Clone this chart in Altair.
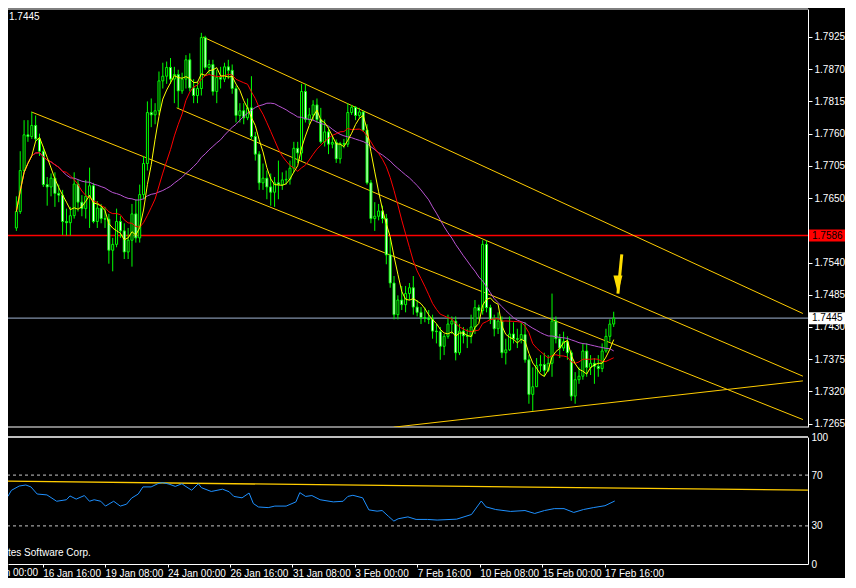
import json
import pandas as pd
import altair as alt

# ---------------- data (H4 bars, index 0 = first bar) ----------------
opens = [
    1.7599, 1.7627, 1.7697, 1.7758, 1.7755, 1.7774, 1.7751, 1.7730, 1.7673, 1.7669,
    1.7684, 1.7658, 1.7655, 1.7610, 1.7608, 1.7620, 1.7674, 1.7643, 1.7632, 1.7653,
    1.7671, 1.7610, 1.7633, 1.7615, 1.7614, 1.7561, 1.7571, 1.7610, 1.7594, 1.7558,
    1.7578, 1.7623, 1.7582, 1.7656, 1.7709, 1.7796, 1.7792, 1.7799, 1.7850, 1.7858,
    1.7873, 1.7853, 1.7861, 1.7833, 1.7853, 1.7886, 1.7838, 1.7825, 1.7837, 1.7924,
    1.7873, 1.7878, 1.7832, 1.7856, 1.7853, 1.7874, 1.7868, 1.7837, 1.7791, 1.7799,
    1.7787, 1.7804, 1.7755, 1.7725, 1.7676, 1.7684, 1.7669, 1.7660, 1.7676, 1.7673,
    1.7681, 1.7682, 1.7701, 1.7735, 1.7727, 1.7832, 1.7784, 1.7792, 1.7809, 1.7784,
    1.7746, 1.7763, 1.7742, 1.7745, 1.7717, 1.7743, 1.7742, 1.7796, 1.7805, 1.7791,
    1.7797, 1.7766, 1.7676, 1.7615, 1.7619, 1.7628, 1.7615, 1.7553, 1.7505, 1.7451,
    1.7476, 1.7468, 1.7487, 1.7497, 1.7464, 1.7455, 1.7446, 1.7445, 1.7443, 1.7423,
    1.7422, 1.7397, 1.7414, 1.7435, 1.7440, 1.7386, 1.7423, 1.7415, 1.7414, 1.7430,
    1.7463, 1.7458, 1.7571, 1.7463, 1.7443, 1.7427, 1.7440, 1.7386, 1.7391, 1.7418,
    1.7410, 1.7409, 1.7417, 1.7374, 1.7315, 1.7328, 1.7364, 1.7366, 1.7356, 1.7368,
    1.7440, 1.7410, 1.7394, 1.7405, 1.7386, 1.7312, 1.7340, 1.7346, 1.7389, 1.7361,
    1.7368, 1.7363, 1.7359, 1.7389, 1.7414, 1.7435,
]
highs = [
    1.7653, 1.7730, 1.7783, 1.7783, 1.7797, 1.7791, 1.7760, 1.7738, 1.7686, 1.7692,
    1.7694, 1.7673, 1.7664, 1.7632, 1.7635, 1.7694, 1.7681, 1.7655, 1.7681, 1.7702,
    1.7676, 1.7645, 1.7640, 1.7635, 1.7623, 1.7582, 1.7632, 1.7619, 1.7607, 1.7599,
    1.7640, 1.7648, 1.7673, 1.7722, 1.7815, 1.7820, 1.7812, 1.7866, 1.7881, 1.7883,
    1.7889, 1.7874, 1.7869, 1.7864, 1.7894, 1.7897, 1.7853, 1.7848, 1.7932, 1.7927,
    1.7886, 1.7886, 1.7869, 1.7874, 1.7881, 1.7886, 1.7878, 1.7842, 1.7812, 1.7812,
    1.7820, 1.7858, 1.7763, 1.7730, 1.7709, 1.7697, 1.7692, 1.7686, 1.7714, 1.7694,
    1.7697, 1.7714, 1.7746, 1.7746, 1.7845, 1.7845, 1.7804, 1.7817, 1.7820, 1.7804,
    1.7784, 1.7771, 1.7755, 1.7750, 1.7746, 1.7751, 1.7812, 1.7809, 1.7807, 1.7804,
    1.7799, 1.7776, 1.7681, 1.7643, 1.7640, 1.7637, 1.7623, 1.7582, 1.7517, 1.7484,
    1.7500, 1.7500, 1.7505, 1.7517, 1.7476, 1.7464, 1.7463, 1.7459, 1.7451, 1.7435,
    1.7430, 1.7418, 1.7451, 1.7448, 1.7448, 1.7435, 1.7430, 1.7427, 1.7451, 1.7476,
    1.7468, 1.7578, 1.7578, 1.7468, 1.7451, 1.7455, 1.7448, 1.7410, 1.7448, 1.7438,
    1.7427, 1.7438, 1.7438, 1.7382, 1.7361, 1.7377, 1.7382, 1.7386, 1.7382, 1.7487,
    1.7448, 1.7418, 1.7422, 1.7414, 1.7390, 1.7353, 1.7361, 1.7402, 1.7402, 1.7382,
    1.7377, 1.7382, 1.7402, 1.7427, 1.7443, 1.7456,
]
lows = [
    1.7594, 1.7623, 1.7694, 1.7746, 1.7751, 1.7746, 1.7722, 1.7669, 1.7637, 1.7653,
    1.7635, 1.7643, 1.7587, 1.7586, 1.7586, 1.7615, 1.7627, 1.7619, 1.7615, 1.7599,
    1.7607, 1.7599, 1.7607, 1.7599, 1.7538, 1.7525, 1.7566, 1.7582, 1.7546, 1.7546,
    1.7533, 1.7574, 1.7574, 1.7648, 1.7697, 1.7771, 1.7776, 1.7792, 1.7837, 1.7845,
    1.7845, 1.7812, 1.7804, 1.7828, 1.7837, 1.7832, 1.7812, 1.7812, 1.7825, 1.7869,
    1.7861, 1.7825, 1.7812, 1.7837, 1.7848, 1.7853, 1.7828, 1.7779, 1.7779, 1.7776,
    1.7783, 1.7750, 1.7714, 1.7664, 1.7664, 1.7648, 1.7637, 1.7635, 1.7648, 1.7664,
    1.7673, 1.7673, 1.7694, 1.7710, 1.7714, 1.7779, 1.7776, 1.7783, 1.7779, 1.7743,
    1.7738, 1.7725, 1.7735, 1.7710, 1.7709, 1.7735, 1.7737, 1.7792, 1.7783, 1.7786,
    1.7763, 1.7673, 1.7607, 1.7594, 1.7612, 1.7607, 1.7537, 1.7497, 1.7443, 1.7443,
    1.7459, 1.7455, 1.7476, 1.7451, 1.7448, 1.7435, 1.7438, 1.7435, 1.7410, 1.7402,
    1.7374, 1.7382, 1.7410, 1.7418, 1.7373, 1.7382, 1.7402, 1.7394, 1.7402, 1.7418,
    1.7443, 1.7451, 1.7455, 1.7435, 1.7414, 1.7418, 1.7377, 1.7366, 1.7389, 1.7402,
    1.7394, 1.7402, 1.7369, 1.7299, 1.7287, 1.7328, 1.7353, 1.7345, 1.7353, 1.7345,
    1.7402, 1.7377, 1.7389, 1.7374, 1.7304, 1.7299, 1.7333, 1.7340, 1.7345, 1.7348,
    1.7333, 1.7345, 1.7353, 1.7386, 1.7405, 1.7430,
]
closes = [
    1.7627, 1.7697, 1.7758, 1.7755, 1.7774, 1.7751, 1.7730, 1.7673, 1.7669, 1.7684,
    1.7658, 1.7655, 1.7610, 1.7608, 1.7620, 1.7674, 1.7643, 1.7632, 1.7653, 1.7671,
    1.7610, 1.7633, 1.7615, 1.7614, 1.7561, 1.7571, 1.7610, 1.7594, 1.7558, 1.7578,
    1.7623, 1.7582, 1.7656, 1.7709, 1.7796, 1.7792, 1.7799, 1.7850, 1.7858, 1.7873,
    1.7853, 1.7861, 1.7833, 1.7853, 1.7886, 1.7838, 1.7825, 1.7837, 1.7924, 1.7873,
    1.7878, 1.7832, 1.7856, 1.7853, 1.7874, 1.7868, 1.7837, 1.7791, 1.7799, 1.7787,
    1.7804, 1.7755, 1.7725, 1.7676, 1.7684, 1.7669, 1.7660, 1.7676, 1.7673, 1.7681,
    1.7682, 1.7701, 1.7735, 1.7727, 1.7832, 1.7784, 1.7792, 1.7809, 1.7784, 1.7746,
    1.7763, 1.7742, 1.7745, 1.7717, 1.7743, 1.7742, 1.7796, 1.7805, 1.7791, 1.7797,
    1.7766, 1.7676, 1.7615, 1.7619, 1.7628, 1.7615, 1.7553, 1.7505, 1.7451, 1.7476,
    1.7468, 1.7487, 1.7497, 1.7464, 1.7455, 1.7446, 1.7445, 1.7443, 1.7423, 1.7422,
    1.7397, 1.7414, 1.7435, 1.7440, 1.7386, 1.7423, 1.7415, 1.7414, 1.7430, 1.7463,
    1.7458, 1.7571, 1.7463, 1.7443, 1.7427, 1.7440, 1.7386, 1.7391, 1.7418, 1.7410,
    1.7409, 1.7417, 1.7374, 1.7315, 1.7328, 1.7364, 1.7366, 1.7356, 1.7368, 1.7440,
    1.7410, 1.7394, 1.7405, 1.7386, 1.7312, 1.7340, 1.7346, 1.7389, 1.7361, 1.7368,
    1.7363, 1.7359, 1.7389, 1.7414, 1.7435, 1.7445,
]
bar_index = list(range(len(closes)))

# oscillator (sub-window) line: bar position -> value
osc_k = [-0.9, 0, 2, 3.7, 5, 6.6, 9.1, 11.6, 14.1, 15,
         16.6, 18.7, 20, 21.2, 22.9, 24.1, 26.2, 27.9, 29.5, 30.8,
         32.5, 33.7, 35.8, 37.5, 38.7, 40.4, 42, 43.7, 44.5, 46.2,
         47.9, 48.7, 51.2, 54.1, 55.8, 57, 59.1, 60.9, 62, 63.3,
         65.8, 67.5, 70.4, 72.9, 73.9, 75.4, 77, 79.1, 82.5, 85,
         86.2, 87.5, 90, 91.6, 93.7, 95, 96.6, 98, 99.1, 101.6,
         103.7, 106.6, 109.1, 114.1, 117.9, 120.4, 121.6, 124.1, 127.9, 131.6,
         134.1, 136.6, 139.1, 141.6, 144.1, 146.6, 149.1, 152.1, 154.6]
osc_v = [53.2, 58.0, 61.4, 62.2, 60.7, 55.1, 54.4, 49.4, 50.6, 53.6,
         51.1, 53.9, 49.4, 50.6, 49.4, 45.6, 49.4, 45.6, 47.1, 51.9,
         55.1, 60.7, 60.7, 63.2, 64.1, 62.9, 61.1, 63.2, 61.4, 58.1,
         63.2, 60.1, 57.1, 58.9, 56.9, 53.2, 52.1, 55.9, 47.6, 44.9,
         44.4, 45.6, 45.6, 48.9, 56.2, 53.2, 53.9, 50.6, 48.9, 49.4,
         53.2, 54.1, 52.1, 42.6, 41.6, 42.1, 37.6, 33.8, 35.6, 37.1,
         35.1, 35.1, 34.6, 35.3, 39.0, 49.6, 45.0, 42.9, 41.4, 42.1,
         39.8, 42.1, 43.6, 43.6, 40.6, 42.9, 44.4, 45.9, 49.6]

price_ticks = [1.7265, 1.7320, 1.7375, 1.7430, 1.7485, 1.7540, 1.7595,
               1.7650, 1.7705, 1.7760, 1.7815, 1.7870, 1.7925]
hidden_tick = 1.7595   # covered by the red price box in the reference
osc_ticks = [0, 30, 70, 100]
osc_levels = [30, 70]
time_ticks = [-8, 8, 24, 40, 56, 72, 88, 104, 120, 136, 152]
time_labels = ["12 Jan 00:00", "16 Jan 16:00", "19 Jan 08:00", "24 Jan 00:00",
               "26 Jan 16:00", "31 Jan 08:00", "3 Feb 00:00", "7 Feb 16:00",
               "10 Feb 08:00", "15 Feb 00:00", "17 Feb 16:00"]

# trend lines drawn on the price window (start bar, start price, end bar, end price)
trend_k1 = [48.4, 3.9, 41.6, 97.9]
trend_p1 = [1.7925, 1.7797, 1.7804, 1.7259]
trend_k2 = [204.1, 204.1, 204.1, 204.1]
trend_p2 = [1.7453, 1.7272, 1.7346, 1.7338]

# trend line on the oscillator window
osc_trend_k = [-0.875, 204.1]
osc_trend_v = [65.2, 58.1]

# horizontal price lines
level_price = [1.7586]
bid_price = [1.7445]

# arrow (tail -> tip)
arrow_k = [157.1, 156.1]
arrow_p = [1.7554, 1.7487]

# ---------------- chart ----------------
W, H1, H2 = 800, 418, 127
FONT = "Liberation Sans"
LIME = "#00ff00"
TREND = "#ffcc00"

candles = pd.DataFrame({"k": bar_index, "open": opens, "high": highs,
                        "low": lows, "close": closes})
osc_df = pd.DataFrame({"k": osc_k, "v": osc_v})
trend_df = pd.DataFrame({"k1": trend_k1, "p1": trend_p1, "k2": trend_k2, "p2": trend_p2})
osc_trend_df = pd.DataFrame({"k1": [osc_trend_k[0]], "v1": [osc_trend_v[0]],
                             "k2": [osc_trend_k[1]], "v2": [osc_trend_v[1]]})
level_df = pd.DataFrame({"price": level_price})
bid_df = pd.DataFrame({"price": bid_price})
arrow_df = pd.DataFrame({"k1": [arrow_k[0]], "p1": [arrow_p[0]],
                         "k2": [arrow_k[1]], "p2": [arrow_p[1]]})
levels_df = pd.DataFrame({"lvl": osc_levels})
first_label_df = pd.DataFrame({"k": [time_ticks[0]], "t": [time_labels[0]]})

xs = alt.Scale(domain=[-0.875, 204.125], nice=False, zero=False)
ys = alt.Scale(domain=[1.72593, 1.79727], nice=False, zero=False)
rs = alt.Scale(domain=[0, 100], nice=False, zero=False)

ylabel_expr = f"abs(datum.value - {hidden_tick}) < 0.00001 ? '' : format(datum.value, '.4f')"
yaxis = alt.Axis(orient="right", values=price_ticks, labelExpr=ylabel_expr, title=None,
                 tickSize=4, labelPadding=2, grid=False, labelFont=FONT,
                 labelFontSize=10, labelColor="#ffffff", domainColor="#ffffff",
                 tickColor="#ffffff", labelOverlap=False, labelFlush=False)
raxis = alt.Axis(orient="right", values=osc_ticks, title=None, tickSize=0,
                 labelPadding=3, grid=False, labelFont=FONT, labelFontSize=10,
                 labelColor="#ffffff", domainColor="#ffffff", labelOverlap=False,
                 labelFlush=False)
label_expr = json.dumps(time_labels) + "[(datum.value + 8) / 16]"
xaxis = alt.Axis(values=time_ticks[1:], labelExpr=label_expr, title=None,
                 tickSize=3, labelAlign="left", labelBaseline="top", labelPadding=1,
                 labelOverlap=False, labelFlush=False, labelBound=False, grid=False,
                 labelFont=FONT, labelFontSize=10, labelColor="#ffffff",
                 domainColor="#ffffff", tickColor="#ffffff")

X = alt.X("k:Q", scale=xs, axis=None)

base = alt.Chart(candles)
wicks = base.mark_rule(color=LIME, strokeWidth=1).encode(
    x=X, y=alt.Y("low:Q", scale=ys, axis=yaxis), y2="high:Q")
bodies = base.mark_bar(size=2, stroke=LIME, strokeWidth=1).encode(
    x=X, y=alt.Y("open:Q", scale=ys, axis=yaxis), y2="close:Q",
    fill=alt.condition("datum.close >= datum.open", alt.value("#000000"),
                       alt.value("#ffffff")))


def sma(n, color):
    return base.transform_window(
        m="mean(close)", frame=[-(n - 1), 0], sort=[alt.SortField("k")]
    ).mark_line(color=color, strokeWidth=1, clip=True).encode(
        x=X, y=alt.Y("m:Q", scale=ys, axis=yaxis))


ma_slow = sma(34, "#ba55d3")
ma_mid = sma(13, "#ff0000")
ma_fast = sma(5, "#ffff00")

trends = alt.Chart(trend_df).mark_rule(color=TREND, strokeWidth=1, clip=True).encode(
    x=alt.X("k1:Q", scale=xs, axis=None), x2="k2:Q",
    y=alt.Y("p1:Q", scale=ys, axis=yaxis), y2="p2:Q")

level_line = alt.Chart(level_df).mark_rule(color="#ff0000", strokeWidth=1.5).encode(
    y=alt.Y("price:Q", scale=ys, axis=yaxis))
bid_line = alt.Chart(bid_df).mark_rule(color="#8090a8", strokeWidth=1.3).encode(
    y=alt.Y("price:Q", scale=ys, axis=yaxis))

BOX = "M-1,-0.3333L1,-0.3333L1,0.3333L-1,0.3333Z"
level_box = alt.Chart(level_df).mark_point(shape=BOX, filled=True, size=1296,
                                           color="#ff0000", opacity=1).encode(
    x=alt.value(W + 19), y=alt.Y("price:Q", scale=ys, axis=yaxis))
level_txt = alt.Chart(level_df).mark_text(align="left", baseline="middle", font=FONT,
                                          fontSize=10, color="#000000").encode(
    x=alt.value(W + 4), y=alt.Y("price:Q", scale=ys, axis=yaxis),
    text=alt.Text("price:Q", format=".4f"))
bid_box = alt.Chart(bid_df).mark_point(shape=BOX, filled=True, size=1296,
                                       color="#ffffff", opacity=1).encode(
    x=alt.value(W + 19), y=alt.Y("price:Q", scale=ys, axis=yaxis))
bid_txt = alt.Chart(bid_df).mark_text(align="left", baseline="middle", font=FONT,
                                      fontSize=10, color="#000000").encode(
    x=alt.value(W + 4), y=alt.Y("price:Q", scale=ys, axis=yaxis),
    text=alt.Text("price:Q", format=".4f"))
top_txt = alt.Chart(bid_df).mark_text(align="left", baseline="middle", font=FONT,
                                      fontSize=10, color="#ffffff").encode(
    x=alt.value(1), y=alt.value(8), text=alt.Text("price:Q", format=".4f"))

arrow_shaft = alt.Chart(arrow_df).mark_rule(color="#ffdd00", strokeWidth=3).encode(
    x=alt.X("k1:Q", scale=xs, axis=None), x2="k2:Q",
    y=alt.Y("p1:Q", scale=ys, axis=yaxis), y2="p2:Q")
arrow_head = alt.Chart(arrow_df).mark_point(shape="M-0.5,-2L0.5,-2L0,0Z", filled=True,
                                            size=324, color="#ffdd00", opacity=1).encode(
    x=alt.X("k2:Q", scale=xs, axis=None), y=alt.Y("p2:Q", scale=ys, axis=yaxis))

border_main = alt.Chart(level_df).mark_rule(color="#ffffff").encode(y=alt.value(0))
border_main_b = alt.Chart(level_df).mark_rule(color="#ffffff").encode(y=alt.value(H1))

main = alt.layer(
    border_main, border_main_b, level_line, bid_line, trends,
    wicks, bodies, ma_slow, ma_mid, ma_fast,
    arrow_shaft, arrow_head, level_box, level_txt, bid_box, bid_txt, top_txt,
).properties(width=W, height=H1)

XO = alt.X("k:Q", scale=xs, axis=xaxis)
osc_line = alt.Chart(osc_df).mark_line(color="#1e90ff", strokeWidth=1, clip=True).encode(
    x=XO, y=alt.Y("v:Q", scale=rs, axis=raxis))
osc_levels_l = alt.Chart(levels_df).mark_rule(color="#c8c8c8", strokeDash=[3, 3]).encode(
    y=alt.Y("lvl:Q", scale=rs, axis=raxis))
osc_trend = alt.Chart(osc_trend_df).mark_rule(color=TREND, strokeWidth=1.3, clip=True).encode(
    x=alt.X("k1:Q", scale=xs, axis=xaxis), x2="k2:Q",
    y=alt.Y("v1:Q", scale=rs, axis=raxis), y2="v2:Q")
border_osc = alt.Chart(levels_df).mark_rule(color="#ffffff").encode(y=alt.value(0))
corp_txt = alt.Chart(first_label_df).mark_text(
    align="left", baseline="middle", font=FONT, fontSize=10, color="#ffffff",
    text="tes Software Corp.").encode(x=alt.value(0), y=alt.value(H2 - 11))
first_lbl = alt.Chart(first_label_df).mark_text(
    align="left", baseline="top", font=FONT, fontSize=10, color="#ffffff").encode(
    x=XO, y=alt.value(H2 + 4), text="t:N")

osc = alt.layer(
    border_osc, osc_levels_l, osc_trend, osc_line, corp_txt, first_lbl,
).properties(width=W, height=H2)

chart = alt.vconcat(main, osc, spacing=3).resolve_scale(y="independent").properties(
    background="#000000",
    padding={"left": -28, "top": 0, "right": 0, "bottom": 0},
).configure_view(stroke=None)

chart.save("out.html", embed_options={"renderer": "svg", "actions": False})
